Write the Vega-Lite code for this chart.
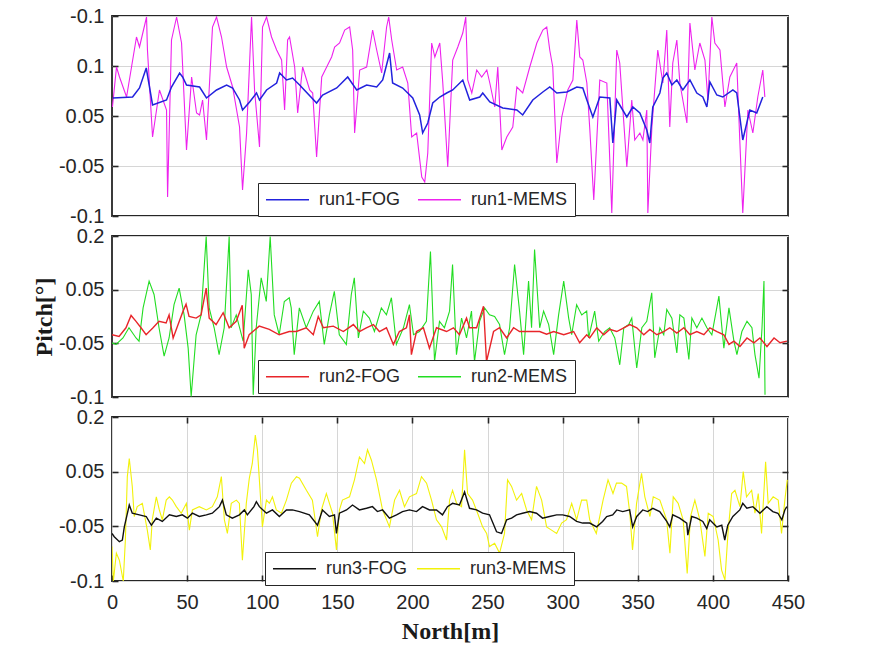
{
  "$schema": "https://vega.github.io/schema/vega-lite/v6.json",
  "background": "white",
  "padding": {"left": 31, "top": 5, "right": 5, "bottom": 5},
  "bounds": "flush",
  "spacing": 20,
  "resolve": {"scale": {"color": "independent"}},
  "config": {
    "view": {"stroke": "#262626", "strokeWidth": 1.8},
    "axis": {"labelFont": "Liberation Sans", "labelFontSize": 20, "labelColor": "#262626", "domain": false, "tickColor": "#262626", "tickSize": -6, "tickWidth": 1.6, "gridColor": "#d6d6d6", "gridWidth": 1, "titleFont": "Liberation Serif", "titleFontWeight": "bold", "titleFontSize": 24, "titleColor": "#1a1a1a", "labelOverlap": false, "labelFlush": false},
    "legend": {"orient": "none", "direction": "horizontal", "columns": 2, "title": null, "symbolType": "M-2.5,0H2.5", "symbolSize": 296, "symbolStrokeWidth": 1.5, "symbolOffset": 13, "labelFont": "Liberation Sans", "labelFontSize": 18, "labelColor": "#262626", "labelOffset": 22, "labelLimit": 300, "strokeColor": "#262626", "fillColor": "white", "padding": 7, "columnPadding": 13}
  },
  "datasets": {
    "p1": [
      {"s":"run1-FOG","x":0.5,"v":0.018},{"s":"run1-FOG","x":13.7,"v":0.019},{"s":"run1-FOG","x":18.3,"v":0.028},{"s":"run1-FOG","x":22.8,"v":0.048},{"s":"run1-FOG","x":27,"v":0.011},{"s":"run1-FOG","x":36.3,"v":0.016},{"s":"run1-FOG","x":39.6,"v":0.029},{"s":"run1-FOG","x":45,"v":0.043},{"s":"run1-FOG","x":47,"v":0.039},{"s":"run1-FOG","x":49.6,"v":0.031},{"s":"run1-FOG","x":58.3,"v":0.029},{"s":"run1-FOG","x":62.9,"v":0.018},{"s":"run1-FOG","x":69.6,"v":0.026},{"s":"run1-FOG","x":76.3,"v":0.031},{"s":"run1-FOG","x":80.3,"v":0.028},{"s":"run1-FOG","x":84.9,"v":0.016},{"s":"run1-FOG","x":86.9,"v":0.006},{"s":"run1-FOG","x":91.6,"v":0.014},{"s":"run1-FOG","x":96.2,"v":0.023},{"s":"run1-FOG","x":98.2,"v":0.016},{"s":"run1-FOG","x":102.9,"v":0.026},{"s":"run1-FOG","x":109.6,"v":0.033},{"s":"run1-FOG","x":111.6,"v":0.043},{"s":"run1-FOG","x":116.2,"v":0.036},{"s":"run1-FOG","x":120.2,"v":0.038},{"s":"run1-FOG","x":124.9,"v":0.031},{"s":"run1-FOG","x":136.2,"v":0.013},{"s":"run1-FOG","x":140.2,"v":0.021},{"s":"run1-FOG","x":149.6,"v":0.028},{"s":"run1-FOG","x":156.9,"v":0.039},{"s":"run1-FOG","x":162.9,"v":0.026},{"s":"run1-FOG","x":169.5,"v":0.031},{"s":"run1-FOG","x":176.2,"v":0.029},{"s":"run1-FOG","x":180.2,"v":0.036},{"s":"run1-FOG","x":184.8,"v":0.063},{"s":"run1-FOG","x":186.8,"v":0.033},{"s":"run1-FOG","x":193.5,"v":0.028},{"s":"run1-FOG","x":200.2,"v":0.018},{"s":"run1-FOG","x":204.8,"v":0.001},{"s":"run1-FOG","x":206.8,"v":-0.017},{"s":"run1-FOG","x":210.2,"v":-0.007},{"s":"run1-FOG","x":213.5,"v":0.013},{"s":"run1-FOG","x":218.2,"v":0.019},{"s":"run1-FOG","x":222.8,"v":0.023},{"s":"run1-FOG","x":226.8,"v":0.026},{"s":"run1-FOG","x":233.5,"v":0.036},{"s":"run1-FOG","x":238.1,"v":0.016},{"s":"run1-FOG","x":244.8,"v":0.019},{"s":"run1-FOG","x":246.8,"v":0.023},{"s":"run1-FOG","x":251.5,"v":0.014},{"s":"run1-FOG","x":260.1,"v":0.008},{"s":"run1-FOG","x":269.5,"v":0.006},{"s":"run1-FOG","x":273.4,"v":0.001},{"s":"run1-FOG","x":280.1,"v":0.016},{"s":"run1-FOG","x":286.8,"v":0.024},{"s":"run1-FOG","x":291.4,"v":0.029},{"s":"run1-FOG","x":296.1,"v":0.023},{"s":"run1-FOG","x":302.8,"v":0.024},{"s":"run1-FOG","x":309.4,"v":0.029},{"s":"run1-FOG","x":313.4,"v":0.028},{"s":"run1-FOG","x":316.1,"v":0.016},{"s":"run1-FOG","x":320.1,"v":-0.001},{"s":"run1-FOG","x":324.7,"v":0.019},{"s":"run1-FOG","x":331.4,"v":0.018},{"s":"run1-FOG","x":333.4,"v":-0.027},{"s":"run1-FOG","x":336,"v":0.016},{"s":"run1-FOG","x":342.7,"v":-0.001},{"s":"run1-FOG","x":346.7,"v":0.009},{"s":"run1-FOG","x":351.4,"v":0.003},{"s":"run1-FOG","x":356,"v":-0.014},{"s":"run1-FOG","x":358,"v":-0.027},{"s":"run1-FOG","x":360,"v":0.009},{"s":"run1-FOG","x":364.7,"v":0.023},{"s":"run1-FOG","x":366.7,"v":0.038},{"s":"run1-FOG","x":369.3,"v":0.043},{"s":"run1-FOG","x":372.7,"v":0.031},{"s":"run1-FOG","x":376,"v":0.036},{"s":"run1-FOG","x":380,"v":0.026},{"s":"run1-FOG","x":384.7,"v":0.036},{"s":"run1-FOG","x":389.3,"v":0.023},{"s":"run1-FOG","x":393.3,"v":0.019},{"s":"run1-FOG","x":396,"v":0.009},{"s":"run1-FOG","x":398,"v":0.034},{"s":"run1-FOG","x":402.6,"v":0.021},{"s":"run1-FOG","x":406.6,"v":0.019},{"s":"run1-FOG","x":413.3,"v":0.026},{"s":"run1-FOG","x":415.9,"v":0.023},{"s":"run1-FOG","x":419.9,"v":-0.024},{"s":"run1-FOG","x":424.6,"v":0.006},{"s":"run1-FOG","x":429.2,"v":0.003},{"s":"run1-FOG","x":433.2,"v":0.019},
      {"s":"run1-MEMS","x":0.3,"v":0.009},{"s":"run1-MEMS","x":3,"v":0.049},{"s":"run1-MEMS","x":5,"v":0.039},{"s":"run1-MEMS","x":9.7,"v":0.019},{"s":"run1-MEMS","x":13,"v":0.049},{"s":"run1-MEMS","x":16.3,"v":0.079},{"s":"run1-MEMS","x":18.3,"v":0.069},{"s":"run1-MEMS","x":23,"v":0.099},{"s":"run1-MEMS","x":23.6,"v":0.066},{"s":"run1-MEMS","x":27,"v":-0.021},{"s":"run1-MEMS","x":31.6,"v":0.026},{"s":"run1-MEMS","x":36.3,"v":0.006},{"s":"run1-MEMS","x":37,"v":-0.081},{"s":"run1-MEMS","x":39.6,"v":0.076},{"s":"run1-MEMS","x":43,"v":0.099},{"s":"run1-MEMS","x":46.3,"v":0.073},{"s":"run1-MEMS","x":49.6,"v":-0.034},{"s":"run1-MEMS","x":53,"v":0.039},{"s":"run1-MEMS","x":56.3,"v":0.003},{"s":"run1-MEMS","x":58.3,"v":0.001},{"s":"run1-MEMS","x":60.3,"v":0.016},{"s":"run1-MEMS","x":62.9,"v":-0.024},{"s":"run1-MEMS","x":66.9,"v":0.089},{"s":"run1-MEMS","x":69.6,"v":0.099},{"s":"run1-MEMS","x":72.9,"v":0.079},{"s":"run1-MEMS","x":76.3,"v":0.049},{"s":"run1-MEMS","x":80.3,"v":0.029},{"s":"run1-MEMS","x":84.9,"v":-0.011},{"s":"run1-MEMS","x":86.9,"v":-0.074},{"s":"run1-MEMS","x":89.6,"v":-0.017},{"s":"run1-MEMS","x":92.9,"v":0.099},{"s":"run1-MEMS","x":94.9,"v":0.026},{"s":"run1-MEMS","x":98.2,"v":-0.031},{"s":"run1-MEMS","x":100.2,"v":0.089},{"s":"run1-MEMS","x":102.9,"v":0.099},{"s":"run1-MEMS","x":106.2,"v":0.079},{"s":"run1-MEMS","x":109.6,"v":0.066},{"s":"run1-MEMS","x":112.9,"v":0.056},{"s":"run1-MEMS","x":114.9,"v":0.006},{"s":"run1-MEMS","x":116.9,"v":0.076},{"s":"run1-MEMS","x":118.2,"v":0.079},{"s":"run1-MEMS","x":121.6,"v":0.049},{"s":"run1-MEMS","x":123.6,"v":0.003},{"s":"run1-MEMS","x":126.9,"v":0.049},{"s":"run1-MEMS","x":131.6,"v":0.026},{"s":"run1-MEMS","x":133.6,"v":0.023},{"s":"run1-MEMS","x":136.2,"v":-0.041},{"s":"run1-MEMS","x":139.6,"v":0.039},{"s":"run1-MEMS","x":142.9,"v":0.049},{"s":"run1-MEMS","x":146.2,"v":0.059},{"s":"run1-MEMS","x":148.2,"v":0.069},{"s":"run1-MEMS","x":151.5,"v":0.073},{"s":"run1-MEMS","x":154.9,"v":0.086},{"s":"run1-MEMS","x":158.2,"v":0.089},{"s":"run1-MEMS","x":160.2,"v":0.066},{"s":"run1-MEMS","x":161.5,"v":-0.017},{"s":"run1-MEMS","x":164.9,"v":0.046},{"s":"run1-MEMS","x":169.5,"v":0.049},{"s":"run1-MEMS","x":173.5,"v":0.086},{"s":"run1-MEMS","x":176.2,"v":0.066},{"s":"run1-MEMS","x":179.5,"v":0.043},{"s":"run1-MEMS","x":182.8,"v":0.089},{"s":"run1-MEMS","x":184.2,"v":0.099},{"s":"run1-MEMS","x":186.2,"v":0.076},{"s":"run1-MEMS","x":189.5,"v":0.046},{"s":"run1-MEMS","x":193.5,"v":0.049},{"s":"run1-MEMS","x":196.9,"v":0.033},{"s":"run1-MEMS","x":199.5,"v":-0.021},{"s":"run1-MEMS","x":202.8,"v":-0.017},{"s":"run1-MEMS","x":206.2,"v":-0.061},{"s":"run1-MEMS","x":208.2,"v":-0.066},{"s":"run1-MEMS","x":210.2,"v":-0.037},{"s":"run1-MEMS","x":212.8,"v":0.073},{"s":"run1-MEMS","x":214.9,"v":0.059},{"s":"run1-MEMS","x":218.2,"v":0.073},{"s":"run1-MEMS","x":220.2,"v":0.033},{"s":"run1-MEMS","x":223.5,"v":-0.051},{"s":"run1-MEMS","x":226.8,"v":0.056},{"s":"run1-MEMS","x":230.2,"v":0.069},{"s":"run1-MEMS","x":233.5,"v":0.083},{"s":"run1-MEMS","x":235.5,"v":0.099},{"s":"run1-MEMS","x":236.8,"v":0.036},{"s":"run1-MEMS","x":239.5,"v":0.023},{"s":"run1-MEMS","x":242.8,"v":0.046},{"s":"run1-MEMS","x":246.1,"v":0.039},{"s":"run1-MEMS","x":249.5,"v":0.046},{"s":"run1-MEMS","x":251.5,"v":0.033},{"s":"run1-MEMS","x":254.8,"v":0.009},{"s":"run1-MEMS","x":256.8,"v":0.049},{"s":"run1-MEMS","x":259.5,"v":-0.034},{"s":"run1-MEMS","x":262.8,"v":-0.021},{"s":"run1-MEMS","x":266.8,"v":-0.011},{"s":"run1-MEMS","x":269.5,"v":0.029},{"s":"run1-MEMS","x":273.4,"v":0.023},{"s":"run1-MEMS","x":278.1,"v":0.049},{"s":"run1-MEMS","x":282.8,"v":0.073},{"s":"run1-MEMS","x":286.8,"v":0.086},{"s":"run1-MEMS","x":289.4,"v":0.089},{"s":"run1-MEMS","x":291.4,"v":0.066},{"s":"run1-MEMS","x":293.4,"v":0.049},{"s":"run1-MEMS","x":296.1,"v":-0.047},{"s":"run1-MEMS","x":299.4,"v":-0.001},{"s":"run1-MEMS","x":303.4,"v":0.026},{"s":"run1-MEMS","x":306.8,"v":0.036},{"s":"run1-MEMS","x":309.4,"v":0.096},{"s":"run1-MEMS","x":311.4,"v":0.059},{"s":"run1-MEMS","x":313.4,"v":0.056},{"s":"run1-MEMS","x":316.1,"v":0.033},{"s":"run1-MEMS","x":318.1,"v":-0.014},{"s":"run1-MEMS","x":320.7,"v":-0.084},{"s":"run1-MEMS","x":324.7,"v":0.036},{"s":"run1-MEMS","x":329.4,"v":0.033},{"s":"run1-MEMS","x":332.7,"v":-0.097},{"s":"run1-MEMS","x":336,"v":0.066},{"s":"run1-MEMS","x":338,"v":0.053},{"s":"run1-MEMS","x":342.7,"v":-0.051},{"s":"run1-MEMS","x":346,"v":0.016},{"s":"run1-MEMS","x":348,"v":-0.024},{"s":"run1-MEMS","x":351.4,"v":-0.017},{"s":"run1-MEMS","x":353.4,"v":-0.024},{"s":"run1-MEMS","x":356,"v":0.006},{"s":"run1-MEMS","x":356.7,"v":-0.097},{"s":"run1-MEMS","x":359.4,"v":-0.011},{"s":"run1-MEMS","x":363.3,"v":0.066},{"s":"run1-MEMS","x":366.7,"v":0.033},{"s":"run1-MEMS","x":369.3,"v":0.086},{"s":"run1-MEMS","x":371.3,"v":-0.011},{"s":"run1-MEMS","x":373.3,"v":0.053},{"s":"run1-MEMS","x":376,"v":0.076},{"s":"run1-MEMS","x":378,"v":0.033},{"s":"run1-MEMS","x":382.7,"v":-0.007},{"s":"run1-MEMS","x":384.7,"v":0.093},{"s":"run1-MEMS","x":388,"v":0.046},{"s":"run1-MEMS","x":391.3,"v":0.073},{"s":"run1-MEMS","x":394.7,"v":0.056},{"s":"run1-MEMS","x":396.7,"v":0.016},{"s":"run1-MEMS","x":399.3,"v":0.099},{"s":"run1-MEMS","x":401.3,"v":0.073},{"s":"run1-MEMS","x":404.7,"v":0.066},{"s":"run1-MEMS","x":408,"v":0.009},{"s":"run1-MEMS","x":411.3,"v":0.039},{"s":"run1-MEMS","x":415.9,"v":0.053},{"s":"run1-MEMS","x":417.9,"v":-0.024},{"s":"run1-MEMS","x":419.9,"v":-0.097},{"s":"run1-MEMS","x":423.3,"v":0.006},{"s":"run1-MEMS","x":426.6,"v":-0.017},{"s":"run1-MEMS","x":429.9,"v":0.019},{"s":"run1-MEMS","x":433.2,"v":0.046},{"s":"run1-MEMS","x":434.6,"v":0.019}
    ],
    "p2": [
      {"s":"run2-FOG","x":0,"v":0.016},{"s":"run2-FOG","x":4.7,"v":0.013},{"s":"run2-FOG","x":9.3,"v":0.029},{"s":"run2-FOG","x":12.7,"v":0.052},{"s":"run2-FOG","x":16,"v":0.041},{"s":"run2-FOG","x":19.3,"v":0.029},{"s":"run2-FOG","x":22.7,"v":0.016},{"s":"run2-FOG","x":27.3,"v":0.029},{"s":"run2-FOG","x":31.3,"v":0.041},{"s":"run2-FOG","x":36,"v":0.038},{"s":"run2-FOG","x":38,"v":0.053},{"s":"run2-FOG","x":40.7,"v":0.01},{"s":"run2-FOG","x":44,"v":0.035},{"s":"run2-FOG","x":47.3,"v":0.06},{"s":"run2-FOG","x":49.3,"v":0.073},{"s":"run2-FOG","x":51.3,"v":0.05},{"s":"run2-FOG","x":56,"v":0.047},{"s":"run2-FOG","x":59.3,"v":0.053},{"s":"run2-FOG","x":62.7,"v":0.103},{"s":"run2-FOG","x":64.7,"v":0.047},{"s":"run2-FOG","x":69.3,"v":0.035},{"s":"run2-FOG","x":74,"v":0.057},{"s":"run2-FOG","x":78,"v":0.029},{"s":"run2-FOG","x":82.7,"v":0.041},{"s":"run2-FOG","x":86.7,"v":0.071},{"s":"run2-FOG","x":88,"v":-0.009},{"s":"run2-FOG","x":91.3,"v":0.016},{"s":"run2-FOG","x":98,"v":0.032},{"s":"run2-FOG","x":104.7,"v":0.026},{"s":"run2-FOG","x":111.3,"v":0.016},{"s":"run2-FOG","x":118,"v":0.022},{"s":"run2-FOG","x":122.7,"v":0.022},{"s":"run2-FOG","x":129.3,"v":0.029},{"s":"run2-FOG","x":134,"v":0.016},{"s":"run2-FOG","x":137.3,"v":0.05},{"s":"run2-FOG","x":140.7,"v":0.029},{"s":"run2-FOG","x":147.3,"v":0.032},{"s":"run2-FOG","x":154,"v":0.022},{"s":"run2-FOG","x":160.7,"v":0.035},{"s":"run2-FOG","x":164.7,"v":0.022},{"s":"run2-FOG","x":169.3,"v":0.029},{"s":"run2-FOG","x":174,"v":0.035},{"s":"run2-FOG","x":178,"v":0.022},{"s":"run2-FOG","x":182.7,"v":0.029},{"s":"run2-FOG","x":187.3,"v":-0.002},{"s":"run2-FOG","x":191.3,"v":0.022},{"s":"run2-FOG","x":196,"v":0.029},{"s":"run2-FOG","x":198,"v":0.053},{"s":"run2-FOG","x":199.3,"v":-0.021},{"s":"run2-FOG","x":202.7,"v":0.022},{"s":"run2-FOG","x":207.3,"v":0.029},{"s":"run2-FOG","x":211.3,"v":-0.009},{"s":"run2-FOG","x":216,"v":0.029},{"s":"run2-FOG","x":222.7,"v":0.022},{"s":"run2-FOG","x":227.3,"v":0.029},{"s":"run2-FOG","x":231.3,"v":0.016},{"s":"run2-FOG","x":236,"v":0.047},{"s":"run2-FOG","x":238,"v":0.029},{"s":"run2-FOG","x":242.7,"v":0.029},{"s":"run2-FOG","x":247.3,"v":0.069},{"s":"run2-FOG","x":249.3,"v":-0.034},{"s":"run2-FOG","x":254,"v":0.022},{"s":"run2-FOG","x":258,"v":0.029},{"s":"run2-FOG","x":262.7,"v":0.01},{"s":"run2-FOG","x":267.3,"v":0.029},{"s":"run2-FOG","x":271.3,"v":0.022},{"s":"run2-FOG","x":278,"v":0.022},{"s":"run2-FOG","x":284.7,"v":0.022},{"s":"run2-FOG","x":289.3,"v":0.017},{"s":"run2-FOG","x":294,"v":0.022},{"s":"run2-FOG","x":300.7,"v":0.016},{"s":"run2-FOG","x":307.3,"v":0.022},{"s":"run2-FOG","x":311.3,"v":0.001},{"s":"run2-FOG","x":316,"v":0.016},{"s":"run2-FOG","x":318,"v":0.01},{"s":"run2-FOG","x":322.7,"v":0.029},{"s":"run2-FOG","x":327.3,"v":0.016},{"s":"run2-FOG","x":331.3,"v":0.026},{"s":"run2-FOG","x":336,"v":0.022},{"s":"run2-FOG","x":340.7,"v":0.029},{"s":"run2-FOG","x":344.7,"v":0.035},{"s":"run2-FOG","x":349.3,"v":0.029},{"s":"run2-FOG","x":354,"v":0.016},{"s":"run2-FOG","x":358,"v":0.026},{"s":"run2-FOG","x":362.7,"v":0.016},{"s":"run2-FOG","x":367.3,"v":0.022},{"s":"run2-FOG","x":371.3,"v":0.029},{"s":"run2-FOG","x":376,"v":0.019},{"s":"run2-FOG","x":380.7,"v":0.029},{"s":"run2-FOG","x":384.7,"v":0.016},{"s":"run2-FOG","x":389.3,"v":0.022},{"s":"run2-FOG","x":394,"v":0.016},{"s":"run2-FOG","x":398,"v":0.029},{"s":"run2-FOG","x":402.7,"v":0.022},{"s":"run2-FOG","x":407.3,"v":0.016},{"s":"run2-FOG","x":410.7,"v":-0.002},{"s":"run2-FOG","x":414,"v":0.004},{"s":"run2-FOG","x":418,"v":-0.006},{"s":"run2-FOG","x":422.7,"v":0.01},{"s":"run2-FOG","x":427.3,"v":0.001},{"s":"run2-FOG","x":431.3,"v":0.01},{"s":"run2-FOG","x":436,"v":-0.006},{"s":"run2-FOG","x":440.7,"v":0.01},{"s":"run2-FOG","x":444.7,"v":0.001},{"s":"run2-FOG","x":449.3,"v":0.004},
      {"s":"run2-MEMS","x":0,"v":0.001},{"s":"run2-MEMS","x":2.7,"v":-0.002},{"s":"run2-MEMS","x":7.3,"v":0.01},{"s":"run2-MEMS","x":11.3,"v":0.029},{"s":"run2-MEMS","x":16,"v":0.01},{"s":"run2-MEMS","x":18,"v":0.004},{"s":"run2-MEMS","x":20.7,"v":0.066},{"s":"run2-MEMS","x":24.7,"v":0.116},{"s":"run2-MEMS","x":28,"v":0.091},{"s":"run2-MEMS","x":31.3,"v":0.029},{"s":"run2-MEMS","x":34.7,"v":-0.024},{"s":"run2-MEMS","x":38,"v":0.01},{"s":"run2-MEMS","x":41.3,"v":0.072},{"s":"run2-MEMS","x":44.7,"v":0.103},{"s":"run2-MEMS","x":48,"v":0.053},{"s":"run2-MEMS","x":50.7,"v":-0.009},{"s":"run2-MEMS","x":52.7,"v":-0.099},{"s":"run2-MEMS","x":56,"v":0.016},{"s":"run2-MEMS","x":59.3,"v":0.053},{"s":"run2-MEMS","x":62.7,"v":0.199},{"s":"run2-MEMS","x":64.7,"v":0.066},{"s":"run2-MEMS","x":68,"v":0.029},{"s":"run2-MEMS","x":71.3,"v":-0.021},{"s":"run2-MEMS","x":74.7,"v":0.029},{"s":"run2-MEMS","x":78,"v":0.199},{"s":"run2-MEMS","x":79.3,"v":0.029},{"s":"run2-MEMS","x":82.7,"v":0.053},{"s":"run2-MEMS","x":87.3,"v":0.004},{"s":"run2-MEMS","x":90.7,"v":0.137},{"s":"run2-MEMS","x":92.7,"v":0.091},{"s":"run2-MEMS","x":94,"v":-0.096},{"s":"run2-MEMS","x":96,"v":0.029},{"s":"run2-MEMS","x":99.3,"v":0.122},{"s":"run2-MEMS","x":102.7,"v":0.078},{"s":"run2-MEMS","x":105.3,"v":0.199},{"s":"run2-MEMS","x":108,"v":0.053},{"s":"run2-MEMS","x":111.3,"v":0.016},{"s":"run2-MEMS","x":114.7,"v":0.078},{"s":"run2-MEMS","x":118,"v":0.085},{"s":"run2-MEMS","x":119.3,"v":0.066},{"s":"run2-MEMS","x":121.3,"v":-0.021},{"s":"run2-MEMS","x":124.7,"v":0.066},{"s":"run2-MEMS","x":129.3,"v":0.029},{"s":"run2-MEMS","x":134,"v":0.06},{"s":"run2-MEMS","x":138,"v":0.078},{"s":"run2-MEMS","x":141.3,"v":-0.002},{"s":"run2-MEMS","x":144.7,"v":0.053},{"s":"run2-MEMS","x":148,"v":0.097},{"s":"run2-MEMS","x":151.3,"v":0.016},{"s":"run2-MEMS","x":156,"v":-0.002},{"s":"run2-MEMS","x":159.3,"v":0.091},{"s":"run2-MEMS","x":161.3,"v":0.122},{"s":"run2-MEMS","x":164,"v":0.01},{"s":"run2-MEMS","x":167.3,"v":0.06},{"s":"run2-MEMS","x":171.3,"v":0.047},{"s":"run2-MEMS","x":174.7,"v":0.022},{"s":"run2-MEMS","x":179.3,"v":0.066},{"s":"run2-MEMS","x":182.7,"v":0.053},{"s":"run2-MEMS","x":186,"v":0.085},{"s":"run2-MEMS","x":189.3,"v":-0.002},{"s":"run2-MEMS","x":194,"v":0.029},{"s":"run2-MEMS","x":198,"v":0.072},{"s":"run2-MEMS","x":200.7,"v":0.016},{"s":"run2-MEMS","x":204.7,"v":0.022},{"s":"run2-MEMS","x":209.3,"v":0.041},{"s":"run2-MEMS","x":212,"v":0.171},{"s":"run2-MEMS","x":214.7,"v":-0.034},{"s":"run2-MEMS","x":218,"v":0.041},{"s":"run2-MEMS","x":221.3,"v":0.029},{"s":"run2-MEMS","x":224.7,"v":0.06},{"s":"run2-MEMS","x":226.7,"v":0.147},{"s":"run2-MEMS","x":229.3,"v":-0.021},{"s":"run2-MEMS","x":232.7,"v":0.047},{"s":"run2-MEMS","x":236,"v":0.01},{"s":"run2-MEMS","x":239.3,"v":0.06},{"s":"run2-MEMS","x":241.3,"v":-0.034},{"s":"run2-MEMS","x":244.7,"v":0.041},{"s":"run2-MEMS","x":248,"v":0.066},{"s":"run2-MEMS","x":251.3,"v":0.053},{"s":"run2-MEMS","x":254.7,"v":0.05},{"s":"run2-MEMS","x":258,"v":0.035},{"s":"run2-MEMS","x":261.3,"v":-0.021},{"s":"run2-MEMS","x":264.7,"v":0.029},{"s":"run2-MEMS","x":268,"v":0.147},{"s":"run2-MEMS","x":271.3,"v":0.06},{"s":"run2-MEMS","x":274,"v":-0.021},{"s":"run2-MEMS","x":277.3,"v":0.116},{"s":"run2-MEMS","x":279.3,"v":0.029},{"s":"run2-MEMS","x":281.3,"v":0.175},{"s":"run2-MEMS","x":284.7,"v":0.029},{"s":"run2-MEMS","x":287.3,"v":0.06},{"s":"run2-MEMS","x":290.7,"v":0.035},{"s":"run2-MEMS","x":294,"v":-0.021},{"s":"run2-MEMS","x":297.3,"v":0.053},{"s":"run2-MEMS","x":300.7,"v":0.116},{"s":"run2-MEMS","x":304,"v":0.047},{"s":"run2-MEMS","x":306,"v":0.016},{"s":"run2-MEMS","x":309.3,"v":0.072},{"s":"run2-MEMS","x":312.7,"v":0.053},{"s":"run2-MEMS","x":316,"v":0.06},{"s":"run2-MEMS","x":317.3,"v":0.01},{"s":"run2-MEMS","x":321.3,"v":0.06},{"s":"run2-MEMS","x":324,"v":0.004},{"s":"run2-MEMS","x":328,"v":0.022},{"s":"run2-MEMS","x":331.3,"v":0.029},{"s":"run2-MEMS","x":334.7,"v":0.01},{"s":"run2-MEMS","x":338,"v":-0.04},{"s":"run2-MEMS","x":340.7,"v":0.029},{"s":"run2-MEMS","x":344,"v":0.035},{"s":"run2-MEMS","x":346,"v":0.047},{"s":"run2-MEMS","x":349.3,"v":-0.046},{"s":"run2-MEMS","x":352.7,"v":0.029},{"s":"run2-MEMS","x":356,"v":0.041},{"s":"run2-MEMS","x":359.3,"v":0.094},{"s":"run2-MEMS","x":361.3,"v":-0.027},{"s":"run2-MEMS","x":364.7,"v":0.029},{"s":"run2-MEMS","x":367.3,"v":0.016},{"s":"run2-MEMS","x":369.3,"v":0.063},{"s":"run2-MEMS","x":372.7,"v":0.047},{"s":"run2-MEMS","x":376,"v":-0.018},{"s":"run2-MEMS","x":378,"v":0.053},{"s":"run2-MEMS","x":380.7,"v":0.047},{"s":"run2-MEMS","x":384,"v":-0.03},{"s":"run2-MEMS","x":386,"v":0.047},{"s":"run2-MEMS","x":389.3,"v":0.029},{"s":"run2-MEMS","x":392.7,"v":0.047},{"s":"run2-MEMS","x":396,"v":0.029},{"s":"run2-MEMS","x":399.3,"v":0.016},{"s":"run2-MEMS","x":404,"v":0.088},{"s":"run2-MEMS","x":407.3,"v":-0.009},{"s":"run2-MEMS","x":410.7,"v":0.066},{"s":"run2-MEMS","x":414,"v":0.004},{"s":"run2-MEMS","x":416,"v":-0.021},{"s":"run2-MEMS","x":419.3,"v":0.022},{"s":"run2-MEMS","x":422.7,"v":0.041},{"s":"run2-MEMS","x":426,"v":0.029},{"s":"run2-MEMS","x":428,"v":-0.021},{"s":"run2-MEMS","x":430.7,"v":-0.065},{"s":"run2-MEMS","x":432.7,"v":0.029},{"s":"run2-MEMS","x":434,"v":0.116},{"s":"run2-MEMS","x":434.7,"v":-0.096}
    ],
    "p3": [
      {"s":"run3-FOG","x":0,"v":-0.013},{"s":"run3-FOG","x":1.5,"v":-0.019},{"s":"run3-FOG","x":4.9,"v":-0.028},{"s":"run3-FOG","x":6.9,"v":-0.025},{"s":"run3-FOG","x":8.2,"v":-0.001},{"s":"run3-FOG","x":11.5,"v":0.039},{"s":"run3-FOG","x":13.5,"v":0.024},{"s":"run3-FOG","x":18.2,"v":0.021},{"s":"run3-FOG","x":22.8,"v":0.018},{"s":"run3-FOG","x":26.2,"v":0.002},{"s":"run3-FOG","x":29.5,"v":0.015},{"s":"run3-FOG","x":33.5,"v":0.009},{"s":"run3-FOG","x":38.2,"v":0.021},{"s":"run3-FOG","x":42.8,"v":0.018},{"s":"run3-FOG","x":46.8,"v":0.021},{"s":"run3-FOG","x":50.2,"v":0.015},{"s":"run3-FOG","x":53.5,"v":0.024},{"s":"run3-FOG","x":58.1,"v":0.018},{"s":"run3-FOG","x":62.8,"v":0.021},{"s":"run3-FOG","x":66.8,"v":0.024},{"s":"run3-FOG","x":71.5,"v":0.036},{"s":"run3-FOG","x":73.5,"v":0.048},{"s":"run3-FOG","x":76.1,"v":0.021},{"s":"run3-FOG","x":80.1,"v":0.015},{"s":"run3-FOG","x":84.8,"v":0.021},{"s":"run3-FOG","x":88.1,"v":0.03},{"s":"run3-FOG","x":90.1,"v":0.021},{"s":"run3-FOG","x":94.5,"v":0.036},{"s":"run3-FOG","x":96.1,"v":0.045},{"s":"run3-FOG","x":98.1,"v":0.036},{"s":"run3-FOG","x":102.8,"v":0.024},{"s":"run3-FOG","x":106.8,"v":0.03},{"s":"run3-FOG","x":111.4,"v":0.018},{"s":"run3-FOG","x":116.1,"v":0.03},{"s":"run3-FOG","x":120.1,"v":0.03},{"s":"run3-FOG","x":124.8,"v":0.027},{"s":"run3-FOG","x":131.4,"v":0.021},{"s":"run3-FOG","x":136.8,"v":0.002},{"s":"run3-FOG","x":140.1,"v":0.03},{"s":"run3-FOG","x":144.7,"v":0.018},{"s":"run3-FOG","x":148.1,"v":0.021},{"s":"run3-FOG","x":149.4,"v":-0.013},{"s":"run3-FOG","x":151.4,"v":0.024},{"s":"run3-FOG","x":156.1,"v":0.03},{"s":"run3-FOG","x":160.1,"v":0.039},{"s":"run3-FOG","x":164.7,"v":0.03},{"s":"run3-FOG","x":169.4,"v":0.033},{"s":"run3-FOG","x":173.4,"v":0.036},{"s":"run3-FOG","x":176.7,"v":0.027},{"s":"run3-FOG","x":180.1,"v":0.03},{"s":"run3-FOG","x":184.7,"v":0.015},{"s":"run3-FOG","x":189.4,"v":0.021},{"s":"run3-FOG","x":193.4,"v":0.027},{"s":"run3-FOG","x":198,"v":0.03},{"s":"run3-FOG","x":202.7,"v":0.027},{"s":"run3-FOG","x":206.7,"v":0.036},{"s":"run3-FOG","x":211.4,"v":0.03},{"s":"run3-FOG","x":216,"v":0.03},{"s":"run3-FOG","x":220,"v":0.021},{"s":"run3-FOG","x":223.3,"v":0.036},{"s":"run3-FOG","x":226.7,"v":0.042},{"s":"run3-FOG","x":231.3,"v":0.039},{"s":"run3-FOG","x":234.7,"v":0.063},{"s":"run3-FOG","x":238,"v":0.033},{"s":"run3-FOG","x":242.7,"v":0.03},{"s":"run3-FOG","x":246.7,"v":0.024},{"s":"run3-FOG","x":251.3,"v":0.021},{"s":"run3-FOG","x":256,"v":-0.01},{"s":"run3-FOG","x":259.3,"v":-0.013},{"s":"run3-FOG","x":262.7,"v":0.012},{"s":"run3-FOG","x":266,"v":0.015},{"s":"run3-FOG","x":269.3,"v":0.021},{"s":"run3-FOG","x":273.3,"v":0.024},{"s":"run3-FOG","x":278,"v":0.027},{"s":"run3-FOG","x":282.6,"v":0.024},{"s":"run3-FOG","x":286.6,"v":0.015},{"s":"run3-FOG","x":291.3,"v":0.018},{"s":"run3-FOG","x":296,"v":0.021},{"s":"run3-FOG","x":300,"v":0.021},{"s":"run3-FOG","x":304.6,"v":0.018},{"s":"run3-FOG","x":309.3,"v":0.009},{"s":"run3-FOG","x":313.3,"v":0.006},{"s":"run3-FOG","x":318,"v":0.006},{"s":"run3-FOG","x":322.6,"v":-0.001},{"s":"run3-FOG","x":326.6,"v":0.009},{"s":"run3-FOG","x":329.3,"v":0.018},{"s":"run3-FOG","x":333.3,"v":0.021},{"s":"run3-FOG","x":336,"v":0.03},{"s":"run3-FOG","x":340,"v":0.027},{"s":"run3-FOG","x":344.6,"v":0.03},{"s":"run3-FOG","x":346.6,"v":-0.001},{"s":"run3-FOG","x":349.3,"v":0.018},{"s":"run3-FOG","x":353.3,"v":0.03},{"s":"run3-FOG","x":356.6,"v":0.027},{"s":"run3-FOG","x":360,"v":0.033},{"s":"run3-FOG","x":364.6,"v":0.027},{"s":"run3-FOG","x":369.3,"v":0.009},{"s":"run3-FOG","x":371.3,"v":-0.001},{"s":"run3-FOG","x":373.3,"v":0.021},{"s":"run3-FOG","x":377.9,"v":0.015},{"s":"run3-FOG","x":382.6,"v":0.006},{"s":"run3-FOG","x":383.3,"v":-0.016},{"s":"run3-FOG","x":385.9,"v":0.018},{"s":"run3-FOG","x":389.3,"v":0.015},{"s":"run3-FOG","x":393.3,"v":0.009},{"s":"run3-FOG","x":395.9,"v":-0.004},{"s":"run3-FOG","x":397.9,"v":0.012},{"s":"run3-FOG","x":402.6,"v":-0.001},{"s":"run3-FOG","x":405.9,"v":0.002},{"s":"run3-FOG","x":407.9,"v":-0.025},{"s":"run3-FOG","x":409.9,"v":0.002},{"s":"run3-FOG","x":413.3,"v":0.018},{"s":"run3-FOG","x":417.9,"v":0.03},{"s":"run3-FOG","x":419.9,"v":0.042},{"s":"run3-FOG","x":422.6,"v":0.033},{"s":"run3-FOG","x":426.6,"v":0.036},{"s":"run3-FOG","x":431.3,"v":0.024},{"s":"run3-FOG","x":435.9,"v":0.036},{"s":"run3-FOG","x":439.9,"v":0.027},{"s":"run3-FOG","x":443.3,"v":0.024},{"s":"run3-FOG","x":445.9,"v":0.012},{"s":"run3-FOG","x":447.9,"v":0.03},{"s":"run3-FOG","x":449.2,"v":0.036},
      {"s":"run3-MEMS","x":0,"v":-0.037},{"s":"run3-MEMS","x":0.9,"v":-0.1},{"s":"run3-MEMS","x":2.9,"v":-0.049},{"s":"run3-MEMS","x":4.9,"v":-0.062},{"s":"run3-MEMS","x":7.5,"v":-0.1},{"s":"run3-MEMS","x":8.9,"v":-0.025},{"s":"run3-MEMS","x":10.2,"v":0.091},{"s":"run3-MEMS","x":11.5,"v":0.124},{"s":"run3-MEMS","x":13.5,"v":0.073},{"s":"run3-MEMS","x":14.8,"v":0.018},{"s":"run3-MEMS","x":16.8,"v":0.036},{"s":"run3-MEMS","x":20.2,"v":0.042},{"s":"run3-MEMS","x":23.5,"v":-0.007},{"s":"run3-MEMS","x":25.5,"v":-0.043},{"s":"run3-MEMS","x":26.8,"v":0.012},{"s":"run3-MEMS","x":29.5,"v":0.054},{"s":"run3-MEMS","x":31.5,"v":0.03},{"s":"run3-MEMS","x":33.5,"v":0.012},{"s":"run3-MEMS","x":36.1,"v":0.048},{"s":"run3-MEMS","x":38.2,"v":0.054},{"s":"run3-MEMS","x":40.2,"v":0.048},{"s":"run3-MEMS","x":42.8,"v":0.036},{"s":"run3-MEMS","x":46.1,"v":0.024},{"s":"run3-MEMS","x":49.5,"v":0.042},{"s":"run3-MEMS","x":51.5,"v":-0.007},{"s":"run3-MEMS","x":53.5,"v":0.03},{"s":"run3-MEMS","x":58.1,"v":0.036},{"s":"run3-MEMS","x":62.8,"v":0.03},{"s":"run3-MEMS","x":66.8,"v":0.036},{"s":"run3-MEMS","x":70.1,"v":0.054},{"s":"run3-MEMS","x":72.8,"v":0.091},{"s":"run3-MEMS","x":74.8,"v":0.012},{"s":"run3-MEMS","x":76.8,"v":-0.013},{"s":"run3-MEMS","x":79.4,"v":0.042},{"s":"run3-MEMS","x":82.8,"v":0.048},{"s":"run3-MEMS","x":84.8,"v":0.042},{"s":"run3-MEMS","x":86.8,"v":-0.062},{"s":"run3-MEMS","x":89.4,"v":0.042},{"s":"run3-MEMS","x":91.4,"v":0.088},{"s":"run3-MEMS","x":93.4,"v":0.115},{"s":"run3-MEMS","x":95.4,"v":0.167},{"s":"run3-MEMS","x":96.8,"v":0.14},{"s":"run3-MEMS","x":99.4,"v":0.03},{"s":"run3-MEMS","x":100.1,"v":-0.001},{"s":"run3-MEMS","x":102.8,"v":0.048},{"s":"run3-MEMS","x":104.8,"v":0.042},{"s":"run3-MEMS","x":106.8,"v":0.054},{"s":"run3-MEMS","x":109.4,"v":0.03},{"s":"run3-MEMS","x":112.8,"v":0.024},{"s":"run3-MEMS","x":116.1,"v":0.048},{"s":"run3-MEMS","x":119.4,"v":0.079},{"s":"run3-MEMS","x":122.8,"v":0.091},{"s":"run3-MEMS","x":124.8,"v":0.088},{"s":"run3-MEMS","x":129.4,"v":0.066},{"s":"run3-MEMS","x":133.4,"v":0.048},{"s":"run3-MEMS","x":136.8,"v":-0.019},{"s":"run3-MEMS","x":139.4,"v":0.03},{"s":"run3-MEMS","x":142.7,"v":0.06},{"s":"run3-MEMS","x":146.8,"v":0.024},{"s":"run3-MEMS","x":149.4,"v":-0.043},{"s":"run3-MEMS","x":151.4,"v":0.03},{"s":"run3-MEMS","x":153.4,"v":0.048},{"s":"run3-MEMS","x":158.1,"v":0.054},{"s":"run3-MEMS","x":161.4,"v":0.085},{"s":"run3-MEMS","x":164.7,"v":0.127},{"s":"run3-MEMS","x":168.1,"v":0.115},{"s":"run3-MEMS","x":170.1,"v":0.14},{"s":"run3-MEMS","x":172.7,"v":0.121},{"s":"run3-MEMS","x":176.1,"v":0.085},{"s":"run3-MEMS","x":180.1,"v":0.03},{"s":"run3-MEMS","x":184.7,"v":-0.001},{"s":"run3-MEMS","x":188.1,"v":0.048},{"s":"run3-MEMS","x":191.4,"v":0.066},{"s":"run3-MEMS","x":194.7,"v":0.036},{"s":"run3-MEMS","x":198,"v":0.054},{"s":"run3-MEMS","x":202.7,"v":0.06},{"s":"run3-MEMS","x":206,"v":0.091},{"s":"run3-MEMS","x":209.4,"v":0.079},{"s":"run3-MEMS","x":212.7,"v":0.048},{"s":"run3-MEMS","x":216,"v":0.012},{"s":"run3-MEMS","x":219.4,"v":-0.001},{"s":"run3-MEMS","x":222.7,"v":-0.025},{"s":"run3-MEMS","x":224.7,"v":0.048},{"s":"run3-MEMS","x":226.7,"v":0.066},{"s":"run3-MEMS","x":229.4,"v":0.042},{"s":"run3-MEMS","x":232.7,"v":0.036},{"s":"run3-MEMS","x":234.7,"v":0.14},{"s":"run3-MEMS","x":236.7,"v":0.06},{"s":"run3-MEMS","x":240,"v":0.048},{"s":"run3-MEMS","x":243.4,"v":0.024},{"s":"run3-MEMS","x":246.7,"v":-0.001},{"s":"run3-MEMS","x":249.4,"v":-0.013},{"s":"run3-MEMS","x":251.3,"v":-0.037},{"s":"run3-MEMS","x":254.7,"v":-0.031},{"s":"run3-MEMS","x":258,"v":-0.049},{"s":"run3-MEMS","x":261.3,"v":-0.013},{"s":"run3-MEMS","x":263.3,"v":0.085},{"s":"run3-MEMS","x":266,"v":0.073},{"s":"run3-MEMS","x":269.3,"v":0.048},{"s":"run3-MEMS","x":272.7,"v":0.06},{"s":"run3-MEMS","x":276,"v":0.03},{"s":"run3-MEMS","x":279.3,"v":0.012},{"s":"run3-MEMS","x":282.6,"v":0.073},{"s":"run3-MEMS","x":286,"v":0.048},{"s":"run3-MEMS","x":289.3,"v":-0.001},{"s":"run3-MEMS","x":292.6,"v":-0.007},{"s":"run3-MEMS","x":296,"v":-0.013},{"s":"run3-MEMS","x":299.3,"v":0.006},{"s":"run3-MEMS","x":302.6,"v":0.012},{"s":"run3-MEMS","x":306,"v":0.042},{"s":"run3-MEMS","x":309.3,"v":0.012},{"s":"run3-MEMS","x":312.6,"v":0.048},{"s":"run3-MEMS","x":316,"v":0.048},{"s":"run3-MEMS","x":318,"v":0.012},{"s":"run3-MEMS","x":322.4,"v":-0.013},{"s":"run3-MEMS","x":326.9,"v":0.048},{"s":"run3-MEMS","x":330.2,"v":0.085},{"s":"run3-MEMS","x":333.5,"v":0.06},{"s":"run3-MEMS","x":335.8,"v":0.079},{"s":"run3-MEMS","x":339.2,"v":0.079},{"s":"run3-MEMS","x":342.5,"v":0.073},{"s":"run3-MEMS","x":344.7,"v":0.024},{"s":"run3-MEMS","x":346.5,"v":-0.043},{"s":"run3-MEMS","x":349.2,"v":0.042},{"s":"run3-MEMS","x":352.5,"v":0.097},{"s":"run3-MEMS","x":354.7,"v":0.054},{"s":"run3-MEMS","x":358.1,"v":0.018},{"s":"run3-MEMS","x":360.3,"v":0.054},{"s":"run3-MEMS","x":364.7,"v":0.048},{"s":"run3-MEMS","x":369.2,"v":0.012},{"s":"run3-MEMS","x":371.4,"v":-0.049},{"s":"run3-MEMS","x":373.6,"v":0.054},{"s":"run3-MEMS","x":376.9,"v":0.042},{"s":"run3-MEMS","x":380.2,"v":0.012},{"s":"run3-MEMS","x":382.9,"v":-0.086},{"s":"run3-MEMS","x":385.1,"v":0.018},{"s":"run3-MEMS","x":388,"v":0.048},{"s":"run3-MEMS","x":391.3,"v":0.012},{"s":"run3-MEMS","x":394.7,"v":-0.055},{"s":"run3-MEMS","x":396.9,"v":0.024},{"s":"run3-MEMS","x":400.2,"v":0.018},{"s":"run3-MEMS","x":403.5,"v":-0.025},{"s":"run3-MEMS","x":405.8,"v":-0.08},{"s":"run3-MEMS","x":408,"v":-0.098},{"s":"run3-MEMS","x":410.2,"v":-0.007},{"s":"run3-MEMS","x":412.5,"v":0.06},{"s":"run3-MEMS","x":414.7,"v":0.066},{"s":"run3-MEMS","x":418,"v":0.036},{"s":"run3-MEMS","x":420.2,"v":0.1},{"s":"run3-MEMS","x":422.4,"v":0.054},{"s":"run3-MEMS","x":425.8,"v":0.066},{"s":"run3-MEMS","x":428,"v":0.024},{"s":"run3-MEMS","x":430.2,"v":0.06},{"s":"run3-MEMS","x":432.4,"v":-0.013},{"s":"run3-MEMS","x":435.1,"v":0.118},{"s":"run3-MEMS","x":436.8,"v":0.042},{"s":"run3-MEMS","x":440.1,"v":0.054},{"s":"run3-MEMS","x":443.5,"v":0.048},{"s":"run3-MEMS","x":445.7,"v":-0.013},{"s":"run3-MEMS","x":447.9,"v":0.048},{"s":"run3-MEMS","x":449.5,"v":0.085}
    ]
  },
  "vconcat": [
    {
      "width": 676, "height": 200,
      "data": {"name": "p1"},
      "resolve": {"scale": {"y": "independent"}},
      "layer": [
        {
          "transform": [{"filter": "datum.s == 'run1-MEMS'"}],
          "mark": {"type": "line", "clip": true, "strokeWidth": 1.1},
          "encoding": {
            "x": {"field": "x", "type": "quantitative", "scale": {"domain": [0, 450], "nice": false}, "axis": null},
            "y": {"field": "v", "type": "quantitative", "scale": {"domain": [-0.1, 0.1], "nice": false, "zero": false},
                  "axis": {"title": null, "values": [-0.1, -0.05, 0, 0.05, 0.1], "grid": true, "labelPadding": 14,
                           "labelExpr": "datum.value == 0.1 ? '-0.1' : datum.value == 0.05 ? '0.1' : datum.value == 0 ? '0.05' : datum.value == -0.05 ? '-0.05' : '-0.1'"}},
            "color": {"field": "s", "type": "nominal", "scale": {"domain": ["run1-FOG", "run1-MEMS"], "range": ["#2222dd", "#ee22ee"]},
                      "legend": {"legendX": 146, "legendY": 167}}
          }
        },
        {
          "transform": [{"filter": "datum.s == 'run1-FOG'"}],
          "mark": {"type": "line", "clip": true, "strokeWidth": 1.5},
          "encoding": {
            "x": {"field": "x", "type": "quantitative", "scale": {"domain": [0, 450], "nice": false}, "axis": null},
            "y": {"field": "v", "type": "quantitative", "scale": {"domain": [-0.1, 0.1], "nice": false, "zero": false},
                  "axis": {"orient": "right", "title": null, "labels": false, "grid": false, "values": [-0.05, 0, 0.05]}},
            "color": {"field": "s", "type": "nominal", "scale": {"domain": ["run1-FOG", "run1-MEMS"], "range": ["#2222dd", "#ee22ee"]},
                      "legend": {"legendX": 146, "legendY": 167}}
          }
        }
      ]
    },
    {
      "width": 676, "height": 161,
      "data": {"name": "p2"},
      "resolve": {"scale": {"y": "independent"}},
      "layer": [
        {
          "transform": [{"filter": "datum.s == 'run2-MEMS'"}],
          "mark": {"type": "line", "clip": true, "strokeWidth": 1.1},
          "encoding": {
            "x": {"field": "x", "type": "quantitative", "scale": {"domain": [0, 450], "nice": false}, "axis": null},
            "y": {"field": "v", "type": "quantitative", "scale": {"domain": [-0.1, 0.2], "nice": false, "zero": false},
                  "axis": {"title": "Pitch[°]", "titlePadding": 2, "values": [-0.1, 0, 0.1, 0.2], "grid": true, "labelPadding": 14,
                           "labelExpr": "datum.value == 0.2 ? '0.2' : datum.value == 0.1 ? '0.05' : datum.value == 0 ? '-0.05' : '-0.1'"}},
            "color": {"field": "s", "type": "nominal", "scale": {"domain": ["run2-FOG", "run2-MEMS"], "range": ["#e8252a", "#22dd22"]},
                      "legend": {"legendX": 146, "legendY": 124}}
          }
        },
        {
          "transform": [{"filter": "datum.s == 'run2-FOG'"}],
          "mark": {"type": "line", "clip": true, "strokeWidth": 1.4},
          "encoding": {
            "x": {"field": "x", "type": "quantitative", "scale": {"domain": [0, 450], "nice": false}, "axis": null},
            "y": {"field": "v", "type": "quantitative", "scale": {"domain": [-0.1, 0.2], "nice": false, "zero": false},
                  "axis": {"orient": "right", "title": null, "labels": false, "grid": false, "values": [0, 0.1]}},
            "color": {"field": "s", "type": "nominal", "scale": {"domain": ["run2-FOG", "run2-MEMS"], "range": ["#e8252a", "#22dd22"]},
                      "legend": {"legendX": 146, "legendY": 124}}
          }
        }
      ]
    },
    {
      "width": 676, "height": 164,
      "data": {"name": "p3"},
      "resolve": {"scale": {"y": "independent", "x": "independent"}},
      "layer": [
        {
          "transform": [{"filter": "datum.s == 'run3-MEMS'"}],
          "mark": {"type": "line", "clip": true, "strokeWidth": 1.1},
          "encoding": {
            "x": {"field": "x", "type": "quantitative", "scale": {"domain": [0, 450], "nice": false},
                  "axis": {"title": "North[m]", "values": [0, 50, 100, 150, 200, 250, 300, 350, 400, 450], "grid": true, "labelPadding": 17, "titlePadding": 7}},
            "y": {"field": "v", "type": "quantitative", "scale": {"domain": [-0.1, 0.2], "nice": false, "zero": false},
                  "axis": {"title": null, "values": [-0.1, 0, 0.1, 0.2], "grid": true, "labelPadding": 14,
                           "labelExpr": "datum.value == 0.2 ? '0.2' : datum.value == 0.1 ? '0.05' : datum.value == 0 ? '-0.05' : '-0.1'"}},
            "color": {"field": "s", "type": "nominal", "scale": {"domain": ["run3-FOG", "run3-MEMS"], "range": ["#111111", "#f2f20a"]},
                      "legend": {"legendX": 153, "legendY": 135, "columnPadding": 5}}
          }
        },
        {
          "transform": [{"filter": "datum.s == 'run3-FOG'"}],
          "mark": {"type": "line", "clip": true, "strokeWidth": 1.4},
          "encoding": {
            "x": {"field": "x", "type": "quantitative", "scale": {"domain": [0, 450], "nice": false},
                  "axis": {"orient": "top", "title": null, "labels": false, "grid": false, "values": [50, 100, 150, 200, 250, 300, 350, 400]}},
            "y": {"field": "v", "type": "quantitative", "scale": {"domain": [-0.1, 0.2], "nice": false, "zero": false},
                  "axis": {"orient": "right", "title": null, "labels": false, "grid": false, "values": [0, 0.1]}},
            "color": {"field": "s", "type": "nominal", "scale": {"domain": ["run3-FOG", "run3-MEMS"], "range": ["#111111", "#f2f20a"]},
                      "legend": {"legendX": 153, "legendY": 135, "columnPadding": 5}}
          }
        }
      ]
    }
  ]
}
